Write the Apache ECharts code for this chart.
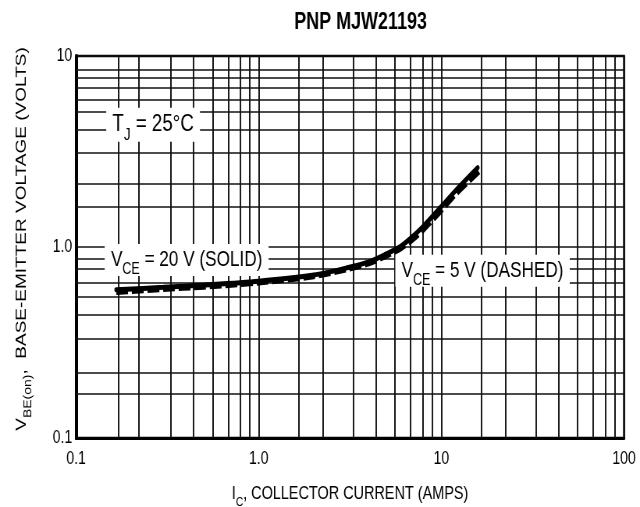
<!DOCTYPE html>
<html>
<head>
<meta charset="utf-8">
<script src="https://cdn.jsdelivr.net/npm/echarts@6/dist/echarts.min.js"></script>
<style>
html,body{margin:0;padding:0;background:#fff;overflow:hidden;width:640px;height:507px;}
#c{width:820px;height:507px;transform:scaleX(0.780488);transform-origin:0 0;}
</style>
</head>
<body>
<div id="c"></div>
<script>
// ---- data ----
const ic20 = [0.166, 0.3, 0.5, 1.0, 2.0, 3.0, 4.0, 5.0, 6.0, 7.0, 8.0, 10.0, 12.0, 15.8];
const vbe20 = [0.597, 0.615, 0.632, 0.662, 0.713, 0.775, 0.835, 0.92, 1.01, 1.14, 1.29, 1.63, 1.98, 2.6];
const ic5 = [0.166, 0.3, 0.5, 1.0, 2.0, 3.0, 4.0, 5.0, 6.0, 7.0, 8.0, 10.0, 12.0, 16.5];
const vbe5 = [0.582, 0.603, 0.62, 0.652, 0.703, 0.763, 0.822, 0.9, 0.985, 1.1, 1.24, 1.56, 1.9, 2.55];
const xTickLabels = {"0.1": "0.1", "1": "1.0", "10": "10", "100": "100"};
const yTickLabels = {"0.1": "0.1", "1": "1.0", "10": "10"};
const xMinorGrid = [0.166, 0.224, 0.331, 0.437, 0.556, 0.676, 0.794, 0.891,
                    1.66, 2.24, 3.31, 4.37, 5.56, 6.76, 7.94, 8.91,
                    16.6, 22.4, 33.1, 43.7, 55.6, 67.6, 79.4, 89.1];
const yMinorGrid = [0.165, 0.22, 0.33, 0.44, 0.551, 0.652, 0.766, 0.873,
                    1.62, 2.15, 3.1, 4.1, 5.1, 5.9, 6.8, 7.7, 8.5];
const notes = [
  {x: 0.264, y: 4.37, size: 24, text: "{a|T}{s|J}{a| = 25°C}"},
  {x: 0.403, y: 0.856, size: 22, text: "{a|V}{s|CE}{a| = 20 V (SOLID)}"},
  {x: 16.8, y: 0.75, size: 22, text: "{a|V}{s|CE}{a| = 5 V (DASHED)}"}
];
// ---- chart ----
const FONT = '"Liberation Sans", Arial, Helvetica, sans-serif';
const chart = echarts.init(document.getElementById('c'), null, {renderer: 'canvas', width: 820, height: 507});
function richFor(size) {
  return {
    a: {fontFamily: FONT, fontSize: size, color: '#000'},
    s: {fontFamily: FONT, fontSize: Math.round(size * 0.72), color: '#000', verticalAlign: 'bottom', padding: [0, 0, -Math.round(size * 0.3), 0]}
  };
}
const hLine = {color: '#111', width: 1.5, type: 'solid', opacity: 1};
const vLine = {color: '#111', width: 1.9, type: 'solid', opacity: 1};
chart.setOption({
  animation: false,
  backgroundColor: '#fff',
  title: {
    text: 'PNP MJW21193', left: 457, top: 6, textAlign: 'center',
    textStyle: {fontFamily: FONT, fontSize: 23, fontWeight: 'bold', color: '#000'}
  },
  grid: {left: 97.5, right: 20.5, top: 56, bottom: 69, containLabel: false, outerBoundsMode: 'none',
    show: true, borderColor: '#000', borderWidth: 2.5, backgroundColor: 'transparent'},
  xAxis: {
    type: 'log', logBase: 10, min: 0.1, max: 100,
    name: '{a|I}{s|C}{a|, COLLECTOR CURRENT (AMPS)}',
    nameLocation: 'middle', nameGap: 46,
    nameTextStyle: {rich: richFor(18.5)},
    axisLine: {show: true, lineStyle: {color: '#000', width: 3}},
    axisTick: {show: false},
    axisLabel: {fontFamily: FONT, fontSize: 18, color: '#000', margin: 12,
      formatter: v => xTickLabels[String(+v.toPrecision(3))] || ''},
    splitLine: {show: true, lineStyle: vLine}
  },
  yAxis: {
    type: 'log', logBase: 10, min: 0.1, max: 10,
    name: '{a|V}{s|BE(on)}{a|,  BASE-EMITTER VOLTAGE (VOLTS)}',
    nameLocation: 'middle', nameGap: 60, nameRotate: 90,
    nameTextStyle: {rich: richFor(19), padding: [0, 0, 0, 16]},
    axisLine: {show: true, lineStyle: {color: '#000', width: 4}},
    axisTick: {show: false},
    axisLabel: {fontFamily: FONT, fontSize: 18, color: '#000', margin: 5,
      formatter: v => yTickLabels[String(+v.toPrecision(3))] || ''},
    splitLine: {show: true, lineStyle: hLine}
  },
  series: [
    {
      type: 'line', name: 'grid', silent: true, data: [], symbol: 'none', z: 1,
      markLine: {
        silent: true, symbol: 'none', label: {show: false}, animation: false, z: 1,
        emphasis: {disabled: true},
        data: xMinorGrid.map(v => ({xAxis: v, lineStyle: vLine}))
          .concat(yMinorGrid.map(v => ({yAxis: v, lineStyle: hLine})))
      }
    },
    {
      type: 'line', name: 'VCE=20', data: ic20.map((x, i) => [x, vbe20[i]]),
      smooth: 0.3, symbol: 'none', z: 5,
      lineStyle: {color: '#000', width: 5, cap: 'round'}
    },
    {
      type: 'line', name: 'VCE=5', data: ic5.map((x, i) => [x, vbe5[i]]),
      smooth: 0.3, symbol: 'none', z: 6,
      lineStyle: {color: '#000', width: 6, type: [15, 5]}
    },
    {
      type: 'scatter', name: 'notes', symbolSize: 1, z: 20, silent: true,
      itemStyle: {opacity: 0},
      data: notes.map(n => ({value: [n.x, n.y], label: {formatter: n.text, rich: richFor(n.size)}})),
      label: {show: true, position: 'inside', color: '#000', opacity: 1, textBorderWidth: 0,
        backgroundColor: '#fff', padding: [5, 8, 5, 8]}
    }
  ]
});
</script>
</body>
</html>
